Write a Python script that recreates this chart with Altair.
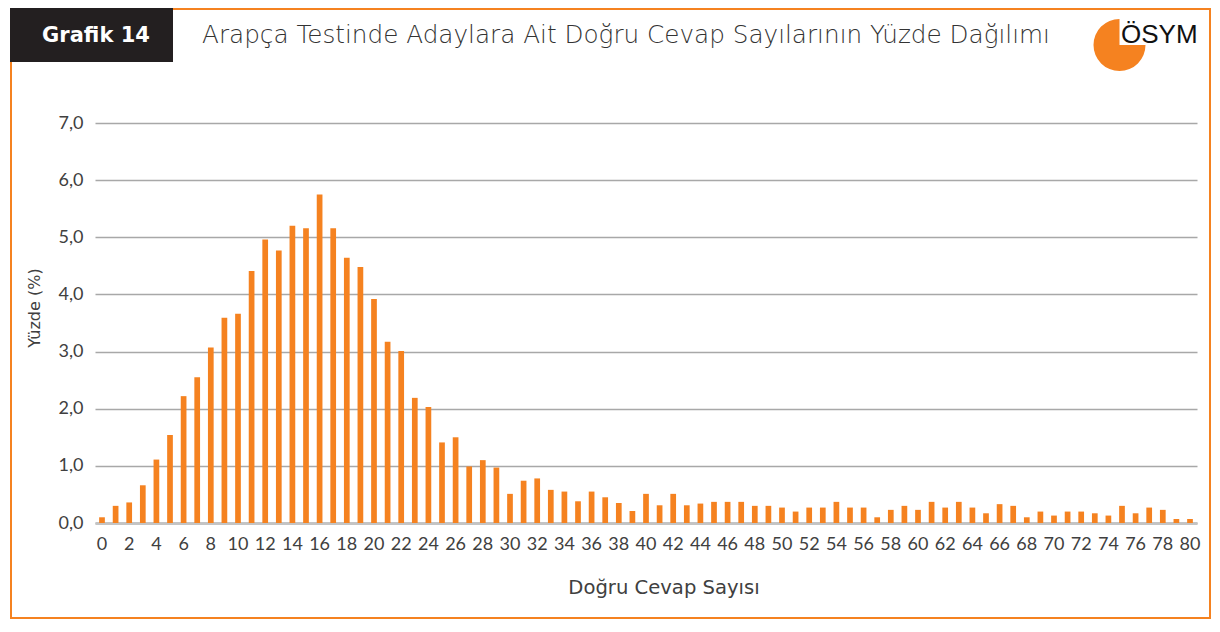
import altair as alt
import pandas as pd
import math

# Data
counts = list(range(0, 81))
percents = [
    0.10, 0.30, 0.36, 0.66, 1.11, 1.54, 2.22, 2.55, 3.07, 3.59,
    3.66, 4.41, 4.96, 4.77, 5.20, 5.16, 5.75, 5.16, 4.64, 4.48,
    3.92, 3.17, 3.01, 2.19, 2.03, 1.41, 1.50, 0.99, 1.10, 0.97,
    0.51, 0.74, 0.78, 0.58, 0.55, 0.38, 0.55, 0.45, 0.35, 0.21,
    0.51, 0.31, 0.51, 0.31, 0.34, 0.37, 0.37, 0.37, 0.30, 0.30,
    0.27, 0.20, 0.27, 0.27, 0.37, 0.27, 0.27, 0.10, 0.23, 0.30,
    0.23, 0.37, 0.27, 0.37, 0.27, 0.17, 0.33, 0.30, 0.10, 0.20,
    0.13, 0.20, 0.20, 0.17, 0.13, 0.30, 0.17, 0.27, 0.23, 0.07,
    0.07,
]
x_tick_values = list(range(0, 81, 2))
y_tick_values = [0, 1, 2, 3, 4, 5, 6, 7]

title_text = "Arapça Testinde Adaylara Ait Doğru Cevap Sayılarının Yüzde Dağılımı"
badge_text = "Grafik 14"
logo_text = "ÖSYM"
x_title = "Doğru Cevap Sayısı"
y_title = "Yüzde (%)"

ORANGE = "#F58220"
FONT = "Lato"
WIDE = "DejaVu Sans"
TEXT_COL = "#404040"

df = pd.DataFrame({"count": counts, "pct": percents})
one = alt.Data(values=[{"k": 1}])

W, H = 1102, 400

bars = alt.Chart(df).mark_bar(color=ORANGE).encode(
    x=alt.X("count:O",
            scale=alt.Scale(paddingInner=0.58, paddingOuter=0.305),
            sort="ascending",
            axis=alt.Axis(values=x_tick_values, labelAngle=0, title=None,
                          domain=True, domainColor="#C4C4C4", domainWidth=3,
                          ticks=False, grid=False, labelPadding=12,
                          labelFontSize=18, labelFont=FONT,
                          labelColor=TEXT_COL, labelFontWeight=400)),
    y=alt.Y("pct:Q",
            scale=alt.Scale(domain=[0, 7], nice=False),
            axis=alt.Axis(values=y_tick_values, title=None,
                          labelExpr="replace(format(datum.value, '.1f'), '.', ',')",
                          domain=False, ticks=False, grid=True,
                          gridColor="#A8A8A8", gridWidth=1.4,
                          labelPadding=12, labelFontSize=18, labelFont=FONT,
                          labelColor=TEXT_COL)),
)

frame = alt.Chart(one).mark_rect(fill="transparent", stroke=ORANGE,
                                 strokeWidth=2).encode(
    x=alt.value(-84), x2=alt.value(1115),
    y=alt.value(-114), y2=alt.value(495),
)

badge = alt.Chart(one).mark_rect(color="#231F20").encode(
    x=alt.value(-85), x2=alt.value(78),
    y=alt.value(-116), y2=alt.value(-61),
)

badge_label = alt.Chart(one).mark_text(
    text=badge_text, color="white", font=WIDE, fontWeight="bold",
    fontSize=21, align="center", baseline="middle",
).encode(x=alt.value(1), y=alt.value(-87))

title = alt.Chart(one).mark_text(
    text=title_text, color="#333333", font=WIDE, fontWeight=300,
    fontSize=24.7, align="left", baseline="middle",
).encode(x=alt.value(107), y=alt.value(-87))

logo_arc = alt.Chart(one).mark_arc(
    color=ORANGE, radius=26, theta=math.pi / 2, theta2=2 * math.pi,
).encode(x=alt.value(1024.5), y=alt.value(-78))

logo_label = alt.Chart(one).mark_text(
    text=logo_text, color="#111111", font="Liberation Sans",
    fontSize=26, align="left", baseline="alphabetic",
).encode(x=alt.value(1026), y=alt.value(-80))

x_title_mark = alt.Chart(one).mark_text(
    text=x_title, color=TEXT_COL, font=WIDE, fontSize=19.6,
    align="center", baseline="middle",
).encode(x=alt.value(569), y=alt.value(465))

y_title_mark = alt.Chart(one).mark_text(
    text=y_title, color=TEXT_COL, font=WIDE, fontSize=16, angle=270,
    align="center", baseline="middle",
).encode(x=alt.value(-60), y=alt.value(185))

chart = alt.layer(
    frame, badge, bars, badge_label, title, logo_arc, logo_label,
    x_title_mark, y_title_mark,
).properties(
    width=W, height=H,
    autosize=alt.AutoSizeParams(type="none"),
    padding={"left": 87, "top": 115, "right": 15, "bottom": 97},
    background="white",
).configure_view(stroke=None)

chart.save("out.html", embed_options={"renderer": "svg", "actions": False})
